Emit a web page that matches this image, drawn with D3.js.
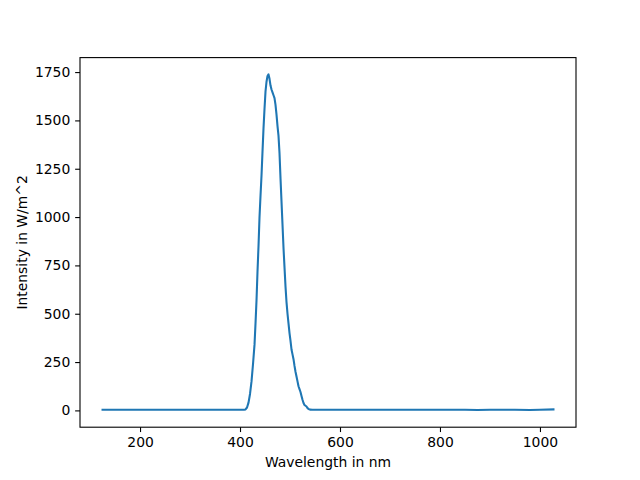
<!DOCTYPE html>
<html>
<head>
<meta charset="utf-8">
<script src="https://cdn.jsdelivr.net/npm/d3@7"></script>
<style>
  html, body { margin: 0; padding: 0; background: #fff; }
  svg { display: block; font-family: "DejaVu Sans", sans-serif; }
</style>
</head>
<body>
<svg id="chart" width="640" height="480"></svg>
<script>
// Wavelength (nm) and intensity (W/m^2)
const wavelengths = [125, 150, 175, 200, 225, 250, 275, 300, 325, 350, 375, 400, 405, 408,
  411, 414, 417, 420, 423, 426, 429, 431, 433, 435, 437, 439, 441, 443, 445, 447, 449, 451,
  453, 455, 457, 459, 461, 463, 465, 467, 469, 471, 473, 475, 477, 479, 481, 483, 485, 487,
  489, 491, 493, 495, 497, 499, 501, 503, 505, 507, 509, 511, 513, 515, 517, 519, 521, 523,
  525, 527, 529, 531, 533, 535, 537, 540, 545, 575, 600, 650, 700, 750, 800, 850, 875, 900,
  950, 980, 1000, 1027];
const intensity = [3, 3, 3, 3, 3, 3, 3, 3, 3, 3, 3, 3, 3, 3,
  5, 15, 40, 85, 150, 240, 340, 450, 570, 720, 850, 1000, 1110, 1215, 1340, 1460, 1560, 1650,
  1700, 1730, 1738, 1715, 1680, 1660, 1645, 1630, 1615, 1580, 1530, 1470, 1420, 1330, 1200, 1080, 960, 840,
  740, 640, 560, 500, 450, 400, 360, 315, 290, 265, 230, 200, 175, 150, 125, 110, 95, 75,
  55, 38, 28, 24, 20, 12, 7, 4, 3, 3, 3, 3, 3, 3, 3, 3, 2, 3,
  3, 2, 3, 5];
const xTicks = [200, 400, 600, 800, 1000];
const yTicks = [0, 250, 500, 750, 1000, 1250, 1500, 1750];
const xLabel = "Wavelength in nm";
const yLabel = "Intensity in W/m^2";

const mLeft = 80, mRight = 576, mTop = 57.6, mBottom = 427.2;

const svg = d3.select("#chart");
const data = wavelengths.map((w, i) => ({ x: w, y: intensity[i] }));

const xe = d3.extent(wavelengths), ye = [0, d3.max(intensity)];
const xp = (xe[1] - xe[0]) * 0.05, yp = (ye[1] - ye[0]) * 0.05;
const x = d3.scaleLinear().domain([xe[0] - xp, xe[1] + xp]).range([mLeft, mRight]);
const y = d3.scaleLinear().domain([ye[0] - yp, ye[1] + yp]).range([mBottom, mTop]);

// line
svg.append("path")
  .datum(data)
  .attr("fill", "none")
  .attr("stroke", "#1f77b4")
  .attr("stroke-width", 2.08)
  .attr("stroke-linejoin", "round")
  .attr("stroke-linecap", "square")
  .attr("d", d3.line().x(d => x(d.x)).y(d => y(d.y)));

// axes
const fs = 13.9;
const xAxis = svg.append("g").attr("transform", `translate(0,${mBottom})`)
  .call(d3.axisBottom(x).tickValues(xTicks).tickSize(4.86).tickPadding(4.86).tickFormat(d3.format("d")));
const yAxis = svg.append("g").attr("transform", `translate(${mLeft},0)`)
  .call(d3.axisLeft(y).tickValues(yTicks).tickSize(4.86).tickPadding(4.86).tickFormat(d3.format("d")));
[xAxis, yAxis].forEach(g => {
  g.select(".domain").remove();
  g.selectAll(".tick line").attr("stroke", "#000").attr("stroke-width", 1.1);
  g.selectAll(".tick text").attr("fill", "#000").style("font-size", fs + "px")
    .style("font-family", "DejaVu Sans, sans-serif");
});

// frame
svg.append("rect")
  .attr("x", mLeft).attr("y", mTop)
  .attr("width", mRight - mLeft).attr("height", mBottom - mTop)
  .attr("fill", "none").attr("stroke", "#000").attr("stroke-width", 1.1);

// labels
svg.append("text")
  .attr("x", (mLeft + mRight) / 2).attr("y", 467)
  .attr("text-anchor", "middle")
  .style("font-size", fs + "px")
  .text(xLabel);
svg.append("text")
  .attr("transform", `translate(27,${(mTop + mBottom) / 2}) rotate(-90)`)
  .attr("text-anchor", "middle")
  .style("font-size", fs + "px")
  .text(yLabel);
</script>
</body>
</html>
